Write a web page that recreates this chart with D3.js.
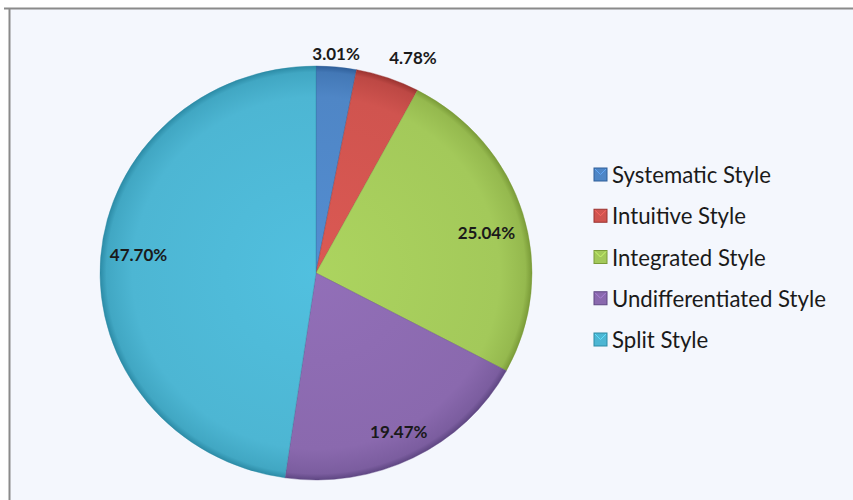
<!DOCTYPE html>
<html>
<head>
<meta charset="utf-8">
<script src="https://cdn.jsdelivr.net/npm/d3@7"></script>
<style>
  html, body { margin: 0; padding: 0; background: #ffffff; }
  svg { display: block; }
</style>
</head>
<body>
<svg id="chart" width="853" height="500"></svg>
<script>
const categories = ["Systematic Style", "Intuitive Style", "Integrated Style", "Undifferentiated Style", "Split Style"];
const values = [3.01, 4.78, 25.04, 19.47, 47.70];
const labels = ["3.01%", "4.78%", "25.04%", "19.47%", "47.70%"];
const colors = ["#4F86C6", "#D0544F", "#A3C95A", "#8A69AE", "#4DB6D3"];
const darkColors = ["#2E5E99", "#9A3330", "#7A9B38", "#5E4682", "#2C8BA6"];
const labelOutside = [true, true, false, false, false];
const labelNudgeX = [-2, 19, 3, 4, -3];
const labelNudgeY = [4, -4, 8, 9, -6];

const W = 853, H = 500;
const svg = d3.select("#chart");

// frame
svg.append("rect").attr("x", 10).attr("y", 9).attr("width", W - 10).attr("height", H - 9)
  .attr("fill", "#F4F7FD");
svg.append("line").attr("x1", 4).attr("x2", W).attr("y1", 8.5).attr("y2", 8.5)
  .attr("stroke", "#8a8a8a").attr("stroke-width", 2);
svg.append("line").attr("x1", 9.5).attr("x2", 9.5).attr("y1", 8).attr("y2", H)
  .attr("stroke", "#8a8a8a").attr("stroke-width", 2);

const defs = svg.append("defs");
colors.forEach((c, i) => {
  const g = defs.append("radialGradient").attr("id", "grad" + i)
    .attr("gradientUnits", "userSpaceOnUse").attr("cx", 0).attr("cy", 0).attr("r", 216);
  g.append("stop").attr("offset", "0%").attr("stop-color", d3.color(c).brighter(0.15));
  g.append("stop").attr("offset", "85%").attr("stop-color", c);
  g.append("stop").attr("offset", "97%").attr("stop-color", d3.interpolateRgb(c, darkColors[i])(0.35));
  g.append("stop").attr("offset", "100%").attr("stop-color", darkColors[i]);
});

const cx = 316, cy = 273, rx = 216, ry = 207;
const pie = d3.pie().sort(null).value(d => d)(values);
const arc = d3.arc().innerRadius(0).outerRadius(rx);

const g = svg.append("g").attr("transform", `translate(${cx},${cy})`);
const pg = g.append("g").attr("transform", `scale(1,${ry / rx})`);

pg.selectAll("path.slice").data(pie).enter().append("path")
  .attr("class", "slice")
  .attr("d", arc)
  .attr("fill", (d, i) => `url(#grad${i})`)
  .attr("stroke", (d, i) => darkColors[i])
  .attr("stroke-opacity", 0.5)
  .attr("stroke-width", 0.8);

// labels
g.selectAll("text.lbl").data(pie).enter().append("text")
  .attr("class", "lbl")
  .attr("x", (d, i) => {
    const a = (d.startAngle + d.endAngle) / 2;
    const k = labelOutside[i] ? 1.085 : 0.81;
    return Math.sin(a) * rx * k + labelNudgeX[i];
  })
  .attr("y", (d, i) => {
    const a = (d.startAngle + d.endAngle) / 2;
    const k = labelOutside[i] ? 1.085 : 0.81;
    return -Math.cos(a) * ry * k + labelNudgeY[i];
  })
  .attr("text-anchor", "middle")
  .attr("dominant-baseline", "central")
  .attr("font-family", "Lato, 'Open Sans', sans-serif")
  .attr("font-weight", "bold")
  .attr("font-size", 17)
  .attr("fill", "#1a1a1a")
  .text((d, i) => labels[i]);

// legend
const legend = svg.append("g").attr("transform", "translate(594,174.5)");
const rowH = 41.25;
categories.forEach((c, i) => {
  const row = legend.append("g").attr("transform", `translate(0,${i * rowH})`);
  row.append("rect").attr("x", 0).attr("y", -6.5).attr("width", 13).attr("height", 13)
    .attr("fill", colors[i]).attr("stroke", darkColors[i]).attr("stroke-width", 1);
  row.append("path").attr("d", "M1,-5.5 L6.5,0 L12,-5.5").attr("fill", "none")
    .attr("stroke", d3.color(colors[i]).brighter(0.6)).attr("stroke-width", 1);
  row.append("text").attr("x", 18).attr("y", 0)
    .attr("dominant-baseline", "central")
    .attr("font-family", "Lato, 'Open Sans', sans-serif")
    .attr("font-size", 22.2)
    .attr("fill", "#1a1a1a")
    .text(c);
});
</script>
</body>
</html>
